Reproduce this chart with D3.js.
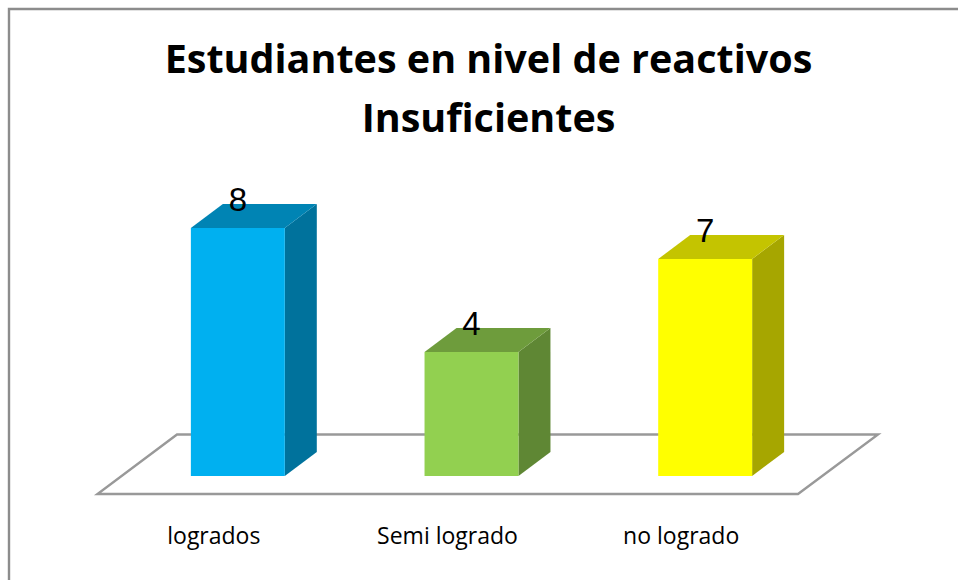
<!DOCTYPE html>
<html>
<head>
<meta charset="utf-8">
<script src="https://cdn.jsdelivr.net/npm/d3@7"></script>
<style>
html, body { margin: 0; padding: 0; background: #fff; }
svg { display: block; }
.title { font-family: "Open Sans", sans-serif; font-weight: 700; font-size: 39.5px; fill: #000; text-anchor: middle; }
.cat { font-family: "Open Sans", sans-serif; font-size: 23px; fill: #000; text-anchor: middle; }
.val { font-family: "Liberation Sans", sans-serif; font-size: 33px; fill: #000; text-anchor: middle; }
</style>
</head>
<body>
<div class="chart"></div>
<script>
// Data ---------------------------------------------------------------------
const categories = ["logrados", "Semi logrado", "no logrado"];
const values = [8, 4, 7];
const titleLines = ["Estudiantes en nivel de reactivos", "Insuficientes"];
const frontColors = ["#00b0f0", "#92d050", "#ffff00"];
const topColors = ["#0084b4", "#6e9c3c", "#c4c400"];
const sideColors = ["#00729c", "#5f8734", "#a6a600"];

// SVG Dimensions ---------------------------------------------------------------------
const width = 958;
const height = 580;
const depthX = 32;
const depthY = 24;

const svg = d3.select(".chart")
  .append("svg")
  .attr("width", width)
  .attr("height", height);

// Scales ---------------------------------------------------------------------
const xScale = d3.scaleBand()
  .domain(categories)
  .range([121, 822])
  .paddingInner(0.598)
  .paddingOuter(0.299);

const yScale = d3.scaleLinear()
  .domain([0, 8])
  .range([476, 228]);

// Chart border ---------------------------------------------------------------------
svg.append("path")
  .attr("d", "M9,580V9H958")
  .attr("fill", "none")
  .attr("stroke", "#8c8c8c")
  .attr("stroke-width", 2.4);

// Title ---------------------------------------------------------------------
svg.selectAll(".title")
  .data(titleLines)
  .join("text")
  .attr("class", "title")
  .attr("x", 488.5)
  .attr("y", (d, i) => 73 + i * 59)
  .text(d => d);

// Floor ---------------------------------------------------------------------
svg.append("path")
  .attr("d", "M97.5,494H798L878,434.5H177Z")
  .attr("fill", "#fff")
  .attr("stroke", "#999")
  .attr("stroke-width", 2.4);

// Bars ---------------------------------------------------------------------
const bars = svg.selectAll(".bar")
  .data(categories.map((c, i) => ({ c, v: values[i], i })))
  .join("g")
  .attr("class", "bar");

const bw = xScale.bandwidth();

bars.append("path")
  .attr("fill", d => sideColors[d.i])
  .attr("d", d => {
    const x = xScale(d.c) + bw, t = yScale(d.v), b = yScale(0);
    return `M${x},${t}l${depthX},${-depthY}V${b - depthY}L${x},${b}Z`;
  });

bars.append("path")
  .attr("fill", d => topColors[d.i])
  .attr("d", d => {
    const x = xScale(d.c), t = yScale(d.v);
    return `M${x},${t}l${depthX},${-depthY}h${bw}l${-depthX},${depthY}Z`;
  });

bars.append("rect")
  .attr("fill", d => frontColors[d.i])
  .attr("x", d => xScale(d.c))
  .attr("y", d => yScale(d.v))
  .attr("width", bw)
  .attr("height", d => yScale(0) - yScale(d.v));

// Labels ---------------------------------------------------------------------
bars.append("text")
  .attr("class", "val")
  .attr("x", d => xScale(d.c) + bw / 2)
  .attr("y", d => yScale(d.v) - 17.5)
  .text(d => d.v);

svg.selectAll(".cat")
  .data(categories)
  .join("text")
  .attr("class", "cat")
  .attr("x", d => xScale(d) + bw / 2 - 24)
  .attr("y", 544)
  .text(d => d);
</script>
</body>
</html>
